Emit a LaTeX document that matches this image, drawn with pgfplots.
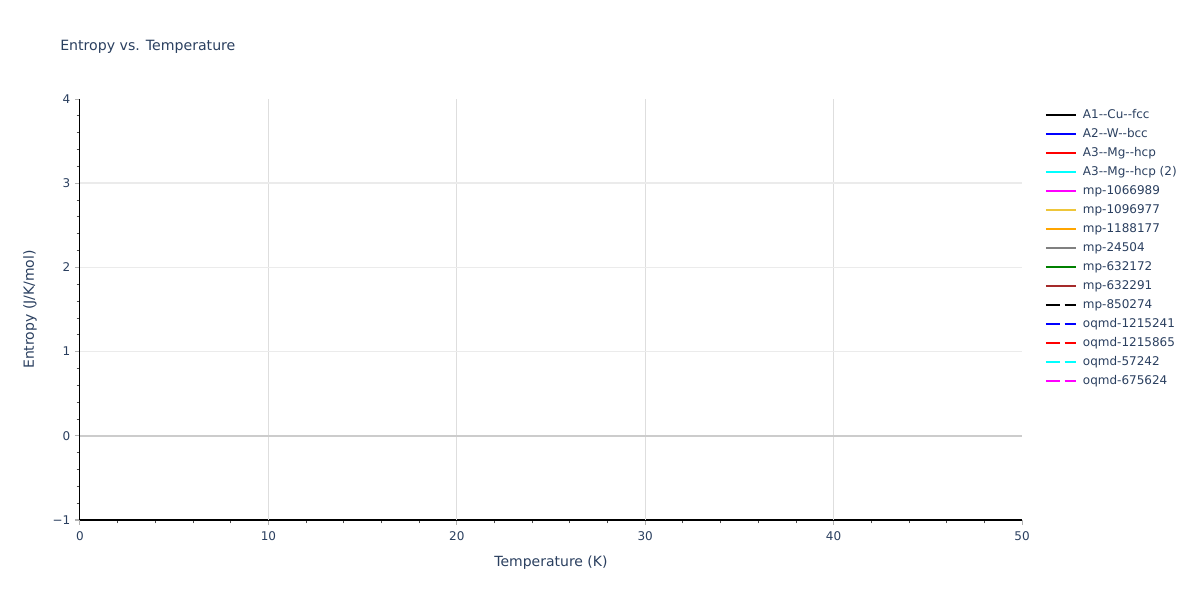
\documentclass[border=0pt]{standalone}
\usepackage{fontspec}
\setmainfont{DejaVu Sans}
\usepackage{pgfplots}
\pgfplotsset{compat=1.18}
\definecolor{txt}{HTML}{2A3F5F}
\definecolor{gold}{HTML}{EEC63A}
\definecolor{orng}{HTML}{FFA500}
\definecolor{brn}{HTML}{A52A2A}
\definecolor{cyn}{HTML}{00FFFF}
\definecolor{mgt}{HTML}{FF00FF}
\definecolor{grn}{HTML}{008000}
\definecolor{gry}{HTML}{808080}
\definecolor{blu}{HTML}{0000FF}
\definecolor{rd}{HTML}{FF0000}
\begin{document}
\begin{tikzpicture}
\begin{axis}[
  name=ax, at={(0,0)}, anchor=south west,
  width=706.5pt, height=315.75pt, scale only axis,
  xmin=0, xmax=50, ymin=-1, ymax=4,
  xtick={0,10,...,50}, ytick={-1,0,...,4},
  yticklabels={−1,0,1,2,3,4},
  minor x tick num=4, minor y tick num=4,
  axis x line*=bottom, axis y line*=left,
  axis line style={black, line width=0.75pt},
  tick align=outside,
  major tick length=3.75pt, minor tick length=2.6pt,
  major tick style={gray!60, line width=0.75pt},
  minor tick style={black!70, line width=0.6pt},
  tick label style={font=\fontsize{9}{9}\selectfont, text=txt},
  xticklabel style={yshift=-1.5pt},
  /pgf/number format/assume math mode=true,
  xlabel={Temperature (K)}, ylabel={Entropy (J/K/mol)},
  label style={font=\fontsize{10.5}{10.5}\selectfont, text=txt},
  xlabel style={at={(0.5,0)}, anchor=center, yshift=-32.25pt},
  ylabel style={at={(0,0.5)}, anchor=center, yshift=37.5pt},
  extra x ticks={10,20,30,40}, extra x tick labels={},
  extra x tick style={grid=major, major tick length=0pt, grid style={color=black!13, line width=0.75pt}},
  extra y ticks={1,2,3}, extra y tick labels={},
  extra y tick style={grid=major, major tick length=0pt, grid style={color=black!8, line width=1.1pt}},
  clip=false,
  legend cell align=left,
  legend image code/.code={\draw[#1, line width=1.5pt] (0pt,0pt) -- (22.5pt,0pt);},
  legend style={at={(1,1)}, anchor=north west, xshift=14pt, yshift=-5.25pt, draw=none, fill=none,
    font=\fontsize{9}{9}\selectfont, text=txt, row sep=5.25pt,
    nodes={inner ysep=0pt, inner xsep=4.5pt, text height=6.8pt, text depth=2.2pt}},
]
\draw[black!20, line width=1.5pt] (axis cs:0,0) -- (axis cs:50,0);
\addlegendimage{black}\addlegendentry{A1-{}-Cu-{}-fcc}
\addlegendimage{blu}\addlegendentry{A2-{}-W-{}-bcc}
\addlegendimage{rd}\addlegendentry{A3-{}-Mg-{}-hcp}
\addlegendimage{cyn}\addlegendentry{A3-{}-Mg-{}-hcp (2)}
\addlegendimage{mgt}\addlegendentry{mp-1066989}
\addlegendimage{gold}\addlegendentry{mp-1096977}
\addlegendimage{orng}\addlegendentry{mp-1188177}
\addlegendimage{gry}\addlegendentry{mp-24504}
\addlegendimage{grn}\addlegendentry{mp-632172}
\addlegendimage{brn}\addlegendentry{mp-632291}
\addlegendimage{black, dash pattern=on 10.5pt off 3.5pt}\addlegendentry{mp-850274}
\addlegendimage{blu, dash pattern=on 10.5pt off 3.5pt}\addlegendentry{oqmd-1215241}
\addlegendimage{rd, dash pattern=on 10.5pt off 3.5pt}\addlegendentry{oqmd-1215865}
\addlegendimage{cyn, dash pattern=on 10.5pt off 3.5pt}\addlegendentry{oqmd-57242}
\addlegendimage{mgt, dash pattern=on 10.5pt off 3.5pt}\addlegendentry{oqmd-675624}
\end{axis}
\node[anchor=west, inner sep=0pt, text=txt, font=\fontsize{10.6}{10.6}\selectfont] at (-15pt,354.75pt) {Entropy vs. Temperature};
\pgfresetboundingbox
\path[use as bounding box] (-60pt,-60pt) rectangle (840pt,390pt);
\end{tikzpicture}
\end{document}
